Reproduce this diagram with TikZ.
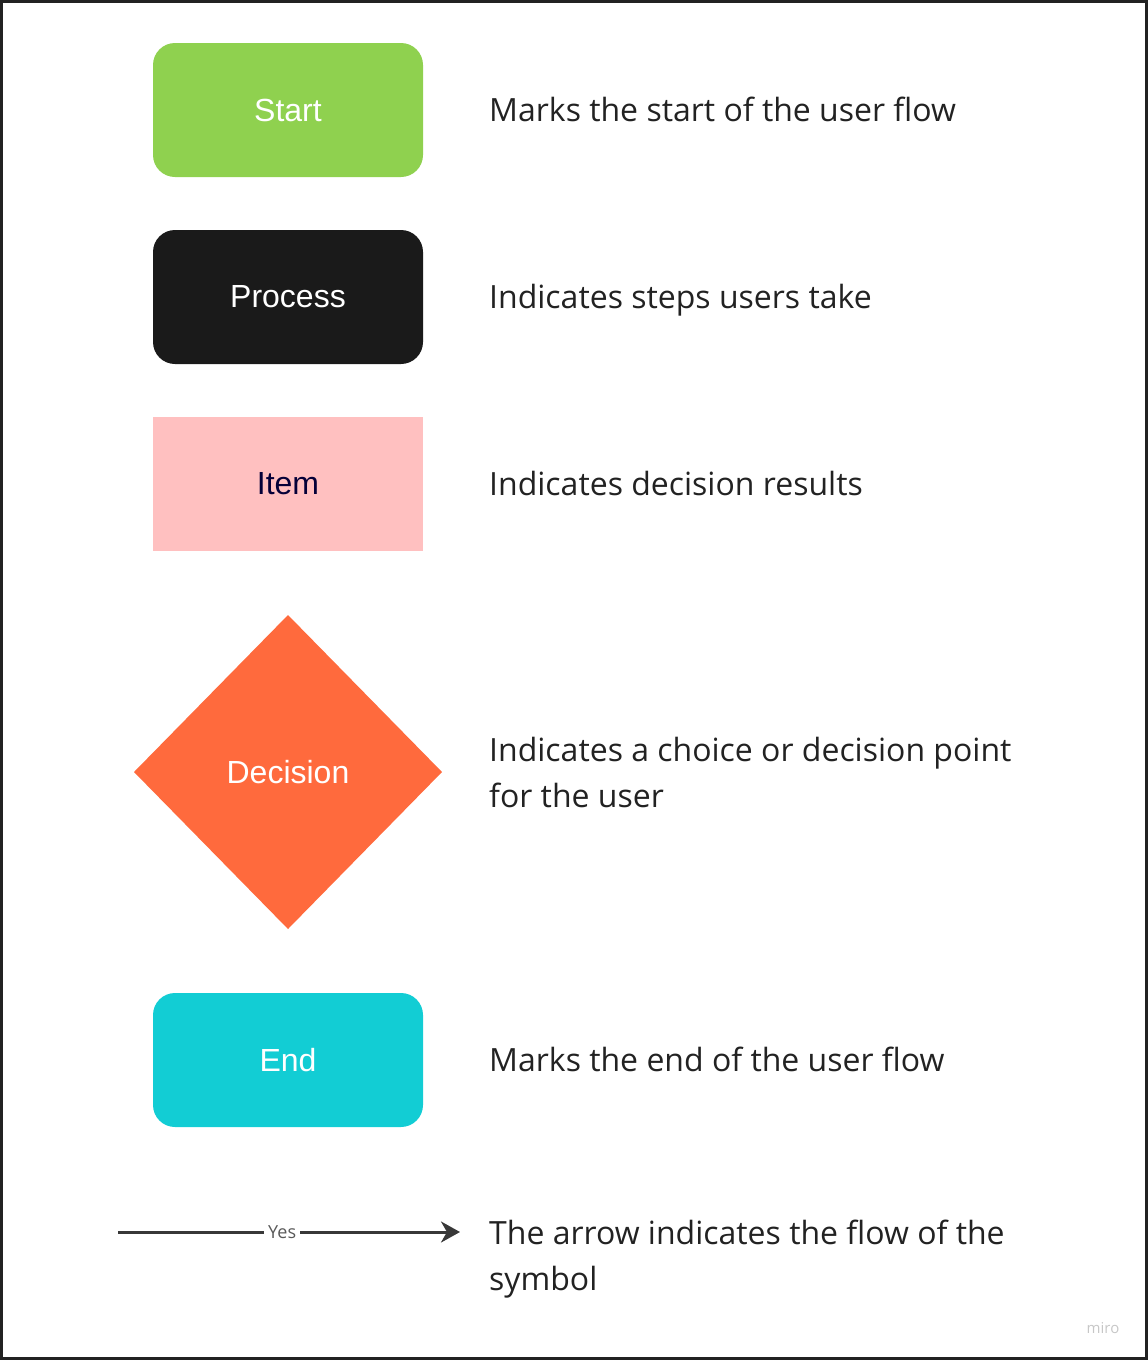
\documentclass[tikz,border=0pt]{standalone}
\usepackage{fontspec}
\setmainfont{Open Sans}
\newfontfamily\boxfont{Liberation Sans}
\usepackage{tikz}
\usetikzlibrary{arrows.meta, positioning, calc, shapes.geometric}

\definecolor{startgreen}{HTML}{8FD14F}
\definecolor{processblack}{HTML}{1A1A1A}
\definecolor{itempink}{HTML}{FFC0C0}
\definecolor{decisionorange}{HTML}{FF6A3D}
\definecolor{endcyan}{HTML}{12CDD4}
\definecolor{navytext}{HTML}{050038}
\definecolor{desctext}{HTML}{222222}

\tikzset{
  shapebox/.style={minimum width=270pt, minimum height=134pt, inner sep=0pt,
    font=\boxfont\fontsize{32}{38}\selectfont, text=white},
  desc/.style={anchor=base west, align=left, inner sep=0pt, text=desctext,
    font=\fontsize{32}{46}\selectfont},
}

\begin{document}
\begin{tikzpicture}[x=1pt, y=-1pt, >=Stealth]
        % Frame
        \useasboundingbox (0,0) rectangle (1148,1360);
        \draw[line width=3pt, color=desctext] (1.5,1.5) rectangle (1146.5,1358.5);
        % Start
        \node[shapebox, fill=startgreen, rounded corners=22pt] (start) at (288,110) {Start};
        \node[desc] (startdesc) at (489,121) {Marks the start of the user flow};
        % Process
        \node[shapebox, fill=processblack, rounded corners=22pt] (process) at (288,297) {Process};
        \node[desc] (processdesc) at (489,308) {Indicates steps users take};
        % Item
        \node[shapebox, fill=itempink, text=navytext] (item) at (288,484) {Item};
        \node[desc] (itemdesc) at (489,495) {Indicates decision results};
        % Decision
        \fill[decisionorange] (288,615) -- (442,772) -- (288,929) -- (134,772) -- cycle;
        \node[font=\boxfont\fontsize{32}{38}\selectfont, text=white] (decision) at (288,772) {Decision};
        \node[desc, anchor=west] (decisiondesc) at (489,772) {Indicates a choice or decision point\\for the user};
        % End
        \node[shapebox, fill=endcyan, rounded corners=22pt] (end) at (288,1060) {End};
        \node[desc] (enddesc) at (489,1071) {Marks the end of the user flow};
        % Arrow
        \coordinate (arrowfrom) at (118,1232);
        \coordinate (arrowto) at (460,1232);
        \draw[line width=3pt, color=desctext!90, -{Stealth[length=19pt, width=21pt, inset=6pt]}]
          (arrowfrom) -- node[pos=0.48, fill=white, inner sep=4pt, text=black!65,
          font=\fontsize{18}{20}\selectfont] (yes) {Yes} (arrowto);
        \node[desc, anchor=west] (arrowdesc) at (489,1259) {The arrow indicates the flow of the\\symbol};
        % Watermark
        \node[text=black!22, font=\fontsize{15}{18}\selectfont] (miro) at (1103,1328) {miro};
\end{tikzpicture}
\end{document}
